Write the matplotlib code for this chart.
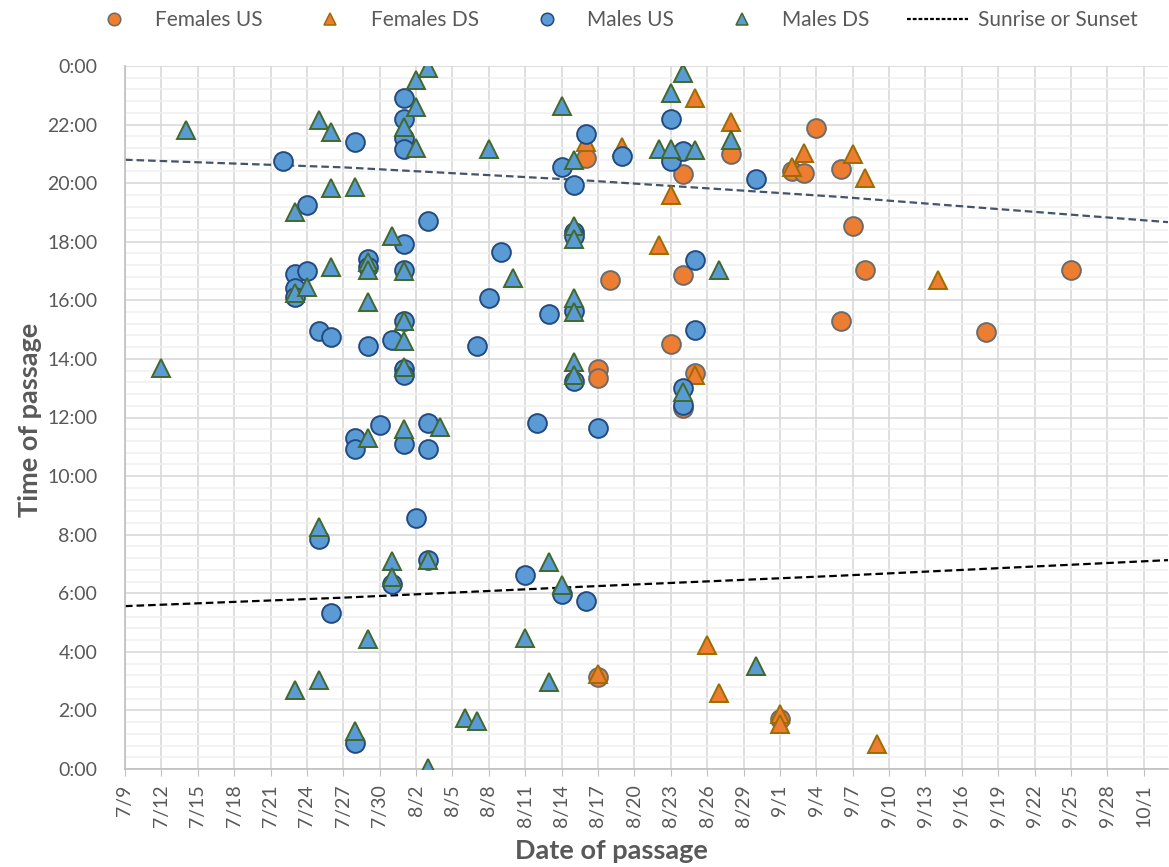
import matplotlib
matplotlib.use('Agg')
import matplotlib.pyplot as plt
import matplotlib.dates as mdates
from matplotlib.lines import Line2D
from matplotlib.ticker import FixedLocator, FuncFormatter, MultipleLocator
import datetime as dt

plt.rcParams['font.family'] = ['Lato', 'DejaVu Sans']

YEAR = 2019

# ---------------- data (date "m/d", time of passage in decimal hours) ----------------
fem_us_dates = ["8/16", "8/17", "8/17", "8/17", "8/18", "8/23", "8/24", "8/24", "8/24", "8/25",
                "8/28", "9/1", "9/2", "9/3", "9/4", "9/6", "9/6", "9/7", "9/8", "9/18", "9/25"]
fem_us_hours = [20.86, 13.67, 13.36, 3.15, 16.68, 14.52, 20.32, 16.88, 12.31, 13.51,
                20.98, 1.70, 20.40, 20.34, 21.88, 20.49, 15.31, 18.53, 17.04, 14.92, 17.04]

fem_ds_dates = ["8/16", "8/17", "8/19", "8/22", "8/23", "8/25", "8/25", "8/26", "8/27", "8/28",
                "9/1", "9/1", "9/2", "9/3", "9/7", "9/8", "9/9", "9/14"]
fem_ds_hours = [21.40, 3.24, 21.22, 17.90, 19.60, 22.92, 13.44, 4.23, 2.59, 22.10,
                1.89, 1.55, 20.56, 21.04, 21.00, 20.16, 0.86, 16.71]

male_us_dates = ["7/22", "7/23", "7/23", "7/23", "7/24", "7/24", "7/25", "7/25", "7/26", "7/26",
                 "7/28", "7/28", "7/28", "7/28", "7/29", "7/29", "7/29", "7/30", "7/31", "7/31",
                 "8/1", "8/1", "8/1", "8/1", "8/1", "8/1", "8/1", "8/1", "8/1", "8/1",
                 "8/2", "8/3", "8/3", "8/3", "8/3", "8/7", "8/8", "8/9", "8/11", "8/12",
                 "8/13", "8/14", "8/14", "8/15", "8/15", "8/15", "8/15", "8/15", "8/16", "8/16",
                 "8/17", "8/19", "8/23", "8/23", "8/24", "8/24", "8/24", "8/25", "8/25", "8/30"]
male_us_hours = [20.77, 16.90, 16.43, 16.12, 19.27, 17.00, 14.97, 7.85, 14.74, 5.33,
                 21.40, 11.29, 10.91, 0.89, 17.42, 17.15, 14.43, 11.73, 14.66, 6.30,
                 22.90, 22.19, 21.54, 21.15, 17.94, 17.02, 15.29, 13.64, 13.44, 11.08,
                 8.57, 18.72, 11.80, 10.91, 7.13, 14.43, 16.09, 17.64, 6.62, 11.82,
                 15.54, 20.54, 5.99, 19.94, 18.33, 18.18, 15.65, 13.24, 21.68, 5.74,
                 11.65, 20.94, 22.19, 20.75, 21.11, 13.00, 12.41, 17.36, 15.00, 20.14]

male_ds_dates = ["7/12", "7/14", "7/23", "7/23", "7/23", "7/24", "7/25", "7/25", "7/25", "7/26",
                 "7/26", "7/26", "7/28", "7/28", "7/29", "7/29", "7/29", "7/29", "7/29", "7/31",
                 "7/31", "7/31", "8/1", "8/1", "8/1", "8/1", "8/1", "8/1", "8/2", "8/2",
                 "8/2", "8/3", "8/3", "8/3", "8/4", "8/6", "8/7", "8/8", "8/10", "8/11",
                 "8/13", "8/13", "8/14", "8/14", "8/15", "8/15", "8/15", "8/15", "8/15", "8/15",
                 "8/15", "8/22", "8/23", "8/23", "8/24", "8/24", "8/25", "8/27", "8/28", "8/30"]
male_ds_hours = [13.68, 21.83, 19.00, 16.25, 2.69, 16.45, 22.15, 8.25, 3.04, 21.76,
                 19.83, 17.15, 19.86, 1.30, 17.30, 17.05, 15.93, 11.30, 4.43, 18.19,
                 7.10, 6.55, 21.93, 17.00, 15.28, 14.60, 13.72, 11.60, 23.53, 22.61,
                 21.19, 23.93, 7.13, 0.02, 11.66, 1.74, 1.64, 21.15, 16.76, 4.48,
                 7.06, 2.97, 22.62, 6.27, 20.80, 18.55, 18.10, 16.07, 15.60, 13.90,
                 13.45, 21.18, 23.09, 21.15, 23.77, 12.88, 21.12, 17.04, 21.46, 3.53]

sun_dates = ["7/9", "7/27", "8/15", "9/6", "10/3"]
sunset_hours = [20.80, 20.54, 20.12, 19.53, 18.67]
sunrise_hours = [5.56, 5.85, 6.21, 6.60, 7.13]

x_start, x_end = "7/9", "10/3"
tick_step_days = 3
y_tick_hours = list(range(0, 25, 2))


def to_date(s):
    m, d = s.split('/')
    return dt.datetime(YEAR, int(m), int(d))


def dates(lst):
    return [to_date(s) for s in lst]


TEXT = '#595959'
fig = plt.figure(figsize=(11.69, 8.67), dpi=100)
ax = fig.add_axes([125 / 1169, 1 - 769 / 867, (1168 - 125) / 1169, (769 - 66) / 867])

dash = (0, (3.4, 1.8))
ax.plot(dates(sun_dates), sunset_hours, color='#44546A', lw=1.6, linestyle=dash, zorder=2)
ax.plot(dates(sun_dates), sunrise_hours, color='black', lw=1.6, linestyle=dash, zorder=2)

ms = 13.5
mew = 1.4
styles = {
    'fus': dict(marker='o', mfc='#ED7D31', mec='#6B6B6B'),
    'fds': dict(marker='^', mfc='#ED7D31', mec='#9E6B00'),
    'mus': dict(marker='o', mfc='#5B9BD5', mec='#234A80'),
    'mds': dict(marker='^', mfc='#5B9BD5', mec='#41692A'),
}
ax.plot(dates(fem_us_dates), fem_us_hours, linestyle='none', ms=ms, mew=mew, zorder=3, **styles['fus'])
ax.plot(dates(fem_ds_dates), fem_ds_hours, linestyle='none', ms=ms, mew=mew, zorder=4, **styles['fds'])
ax.plot(dates(male_us_dates), male_us_hours, linestyle='none', ms=ms, mew=mew, zorder=5, **styles['mus'])
ax.plot(dates(male_ds_dates), male_ds_hours, linestyle='none', ms=ms, mew=mew, zorder=6, **styles['mds'])

# axes
x0, x1 = to_date(x_start), to_date(x_end)
ax.set_xlim(x0, x1)
ax.set_ylim(0, 24)
ticks = []
t = x0
while t <= x1:
    ticks.append(mdates.date2num(t))
    t += dt.timedelta(days=tick_step_days)
ax.xaxis.set_major_locator(FixedLocator(ticks))
ax.xaxis.set_major_formatter(FuncFormatter(
    lambda v, p: f"{mdates.num2date(v).month}/{mdates.num2date(v).day}"))
ax.yaxis.set_major_locator(FixedLocator(y_tick_hours))
ax.yaxis.set_major_formatter(FuncFormatter(lambda v, p: f"{int(round(v)) % 24}:00"))
ax.yaxis.set_minor_locator(MultipleLocator(0.4))

ax.grid(which='major', color='#D9D9D9', lw=1.2, zorder=0)
ax.yaxis.grid(which='minor', color='#F0F0F0', lw=1.1, zorder=0)
ax.set_axisbelow(True)

for s in ['top', 'right']:
    ax.spines[s].set_visible(False)
for s in ['left', 'bottom']:
    ax.spines[s].set_color('#BFBFBF')
    ax.spines[s].set_linewidth(1.2)

ax.tick_params(axis='x', which='major', length=5, color='#BFBFBF', labelsize=14,
               labelcolor=TEXT, labelrotation=90, pad=6)
ax.tick_params(axis='y', which='both', length=0, labelsize=14, labelcolor=TEXT, pad=20)

ax.set_xlabel('Date of passage', fontsize=19.5, fontweight='bold', color=TEXT)
ax.set_ylabel('Time of passage', fontsize=19.5, fontweight='bold', color=TEXT)
ax.xaxis.label.set_va('center')
ax.yaxis.label.set_va('center')
ax.xaxis.set_label_coords((611 - 125) / 1043, (769 - 851) / 703)
ax.yaxis.set_label_coords((30 - 125) / 1043, (769 - 420) / 703)

# legend
lms = 9
handles = [
    Line2D([], [], linestyle='none', ms=lms, mew=1.1, **styles['fus']),
    Line2D([], [], linestyle='none', ms=lms, mew=1.1, **styles['fds']),
    Line2D([], [], linestyle='none', ms=lms, mew=1.1, **styles['mus']),
    Line2D([], [], linestyle='none', ms=lms, mew=1.1, **styles['mds']),
    Line2D([], [], color='black', lw=1.6, linestyle=(0, (1.7, 0.9))),
]
labels = ['Females US', 'Females DS', 'Males US', 'Males DS', 'Sunrise or Sunset']
leg = fig.legend(handles, labels, loc='center', bbox_to_anchor=(611 / 1169, 1 - 20 / 867), ncol=5,
                 frameon=False, fontsize=15, handlelength=2.9, handletextpad=0.5,
                 columnspacing=1.8)
for txt in leg.get_texts():
    txt.set_color(TEXT)

fig.savefig('out.png', dpi=100)
